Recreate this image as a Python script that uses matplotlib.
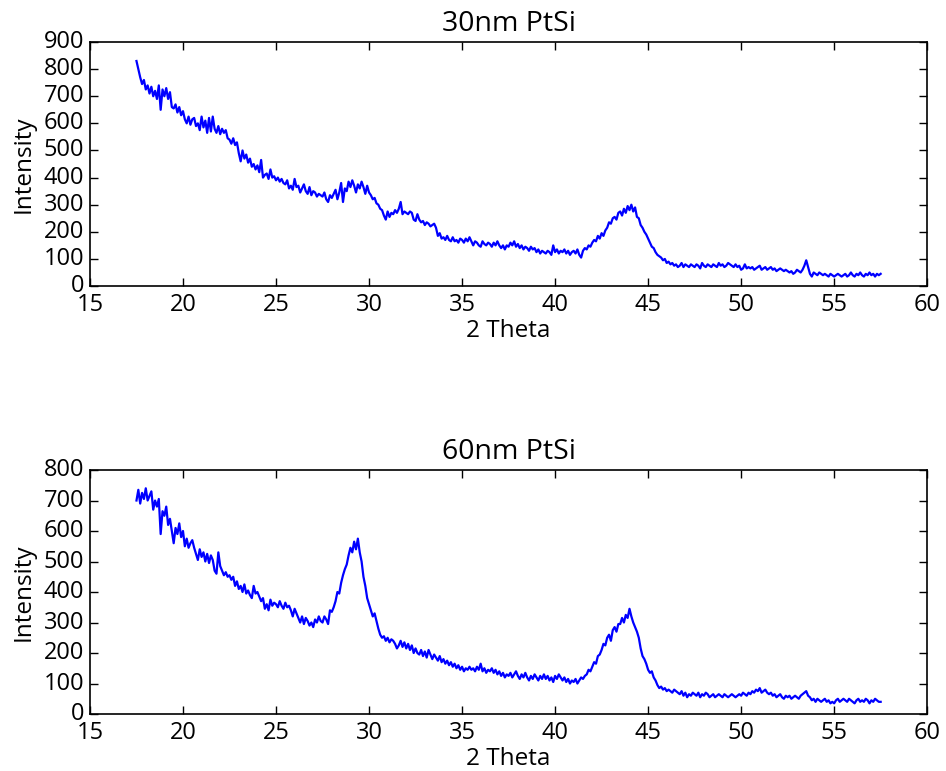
import numpy as np
import matplotlib
matplotlib.use("Agg")
import matplotlib.pyplot as plt

# =============================================================================
# Data (2 theta scan 17.5 -> 57.5 in 0.1 steps)
# =============================================================================
two_theta = np.round(np.linspace(17.5, 57.5, 401), 1)

intensity_30nm = [
    830, 800, 770, 745, 760, 725, 740, 710, 735, 700,
    720, 690, 740, 650, 725, 700, 730, 690, 715, 660,
    655, 670, 640, 660, 630, 645, 615, 600, 625, 595,
    615, 620, 590, 600, 575, 625, 585, 610, 565, 620,
    570, 625, 580, 565, 590, 560, 580, 565, 575, 545,
    540, 525, 545, 520, 530, 490, 460, 500, 470, 485,
    455, 470, 440, 450, 430, 445, 420, 465, 400, 410,
    415, 395, 430, 400, 405, 390, 400, 385, 395, 380,
    375, 390, 360, 370, 355, 395, 365, 370, 345, 360,
    375, 350, 340, 365, 335, 350, 345, 330, 340, 335,
    330, 345, 320, 310, 335, 325, 340, 355, 320, 345,
    380, 310, 360, 350, 385, 365, 390, 370, 345, 375,
    360, 385, 365, 340, 370, 345, 335, 320, 325, 305,
    300, 285, 280, 260, 245, 275, 255, 270, 265, 280,
    270, 285, 310, 265, 275, 270, 265, 275, 270, 245,
    240, 265, 245, 235, 240, 225, 235, 230, 220, 225,
    230, 215, 185, 195, 175, 180, 170, 185, 170, 165,
    180, 165, 170, 160, 175, 170, 160, 175, 165, 180,
    165, 150, 165, 160, 150, 145, 165, 155, 150, 160,
    155, 145, 160, 150, 165, 150, 140, 150, 135, 150,
    145, 160, 150, 165, 145, 155, 140, 150, 135, 145,
    140, 130, 145, 135, 140, 125, 135, 120, 130, 125,
    120, 130, 125, 115, 150, 125, 135, 120, 130, 125,
    135, 120, 130, 115, 125, 130, 120, 135, 115, 105,
    130, 140, 135, 150, 145, 160, 170, 165, 185, 175,
    195, 185, 205, 215, 235, 230, 250, 255, 245, 270,
    275, 260, 285, 270, 295, 280, 300, 275, 290, 255,
    250, 225, 215, 200, 190, 175, 160, 145, 140, 125,
    115, 110, 105, 95, 100, 85, 90, 80, 85, 75,
    80, 70, 75, 85, 70, 80, 75, 70, 80, 75,
    70, 80, 75, 65, 85, 75, 70, 80, 75, 70,
    80, 75, 70, 85, 75, 80, 70, 75, 85, 80,
    75, 70, 80, 70, 75, 60, 65, 80, 65, 70,
    65, 70, 60, 65, 70, 75, 60, 65, 70, 60,
    65, 70, 60, 65, 55, 60, 65, 60, 55, 60,
    55, 50, 55, 45, 50, 60, 55, 50, 60, 75,
    95, 70, 45, 35, 50, 45, 40, 50, 45, 40,
    45, 40, 35, 45, 40, 35, 40, 45, 40, 35,
    40, 45, 35, 40, 50, 40, 35, 45, 40, 50,
    40, 35, 45, 40, 50, 40, 45, 35, 45, 40,
    45,
]

intensity_60nm = [
    700, 735, 690, 725, 705, 740, 700, 715, 730, 670,
    700, 680, 705, 590, 665, 650, 680, 620, 640, 600,
    560, 610, 590, 625, 580, 600, 550, 575, 545, 560,
    570, 545, 525, 505, 540, 515, 530, 500, 525, 495,
    520, 505, 470, 460, 530, 485, 470, 455, 465, 450,
    455, 440, 450, 420, 435, 410, 420, 400, 425, 395,
    405, 390, 380, 420, 395, 400, 385, 370, 380, 345,
    360, 340, 375, 355, 365, 360, 350, 370, 355, 345,
    365, 350, 355, 340, 320, 345, 330, 315, 300, 320,
    295, 315, 305, 290, 300, 285, 310, 300, 320, 305,
    300, 320, 310, 295, 340, 335, 350, 370, 400, 395,
    430, 455, 475, 490, 520, 545, 530, 565, 540, 575,
    530, 500, 450, 420, 380, 360, 340, 320, 330, 305,
    280, 260, 250, 255, 240, 250, 235, 245, 240, 230,
    215, 225, 240, 220, 235, 215, 230, 210, 225, 200,
    215, 200, 195, 210, 190, 205, 185, 210, 195, 180,
    195, 185, 175, 190, 170, 180, 165, 175, 160, 170,
    155, 165, 150, 160, 145, 155, 140, 150, 145, 155,
    145, 150, 140, 155, 145, 165, 140, 150, 135, 145,
    140, 150, 135, 145, 130, 140, 125, 135, 120, 130,
    125, 135, 120, 130, 140, 125, 115, 130, 120, 135,
    120, 110, 125, 115, 130, 120, 110, 125, 115, 130,
    115, 125, 110, 120, 105, 125, 115, 130, 120, 110,
    120, 105, 115, 100, 110, 105, 115, 100, 110, 120,
    115, 125, 130, 145, 140, 155, 170, 165, 190, 195,
    210, 230, 225, 250, 260, 240, 275, 285, 270, 295,
    295, 315, 300, 325, 315, 345, 320, 300, 285, 270,
    250, 215, 190, 180, 165, 145, 135, 140, 120, 110,
    95, 85, 90, 80, 85, 75, 80, 75, 70, 80,
    75, 70, 65, 75, 60, 70, 55, 65, 60, 70,
    65, 60, 70, 55, 65, 60, 70, 65, 55, 60,
    65, 55, 60, 65, 60, 55, 65, 60, 55, 60,
    65, 60, 55, 60, 65, 60, 70, 65, 60, 70,
    65, 75, 70, 80, 75, 85, 70, 75, 80, 70,
    65, 70, 60, 65, 55, 60, 65, 55, 50, 60,
    55, 60, 50, 55, 60, 55, 50, 60, 65, 70,
    75, 60, 55, 45, 50, 40, 50, 45, 40, 45,
    50, 40, 45, 35, 40, 35, 45, 50, 40, 45,
    50, 45, 40, 50, 45, 40, 35, 45, 50, 40,
    45, 40, 50, 45, 35, 45, 40, 50, 45, 40,
    40,
]

titles = ["30nm PtSi", "60nm PtSi"]
ymax = [900, 800]

# =============================================================================
# Plot
# =============================================================================
plt.style.use("classic")
plt.rcParams["font.family"] = ["Open Sans", "DejaVu Sans"]
plt.rcParams["font.size"] = 17

fig = plt.figure(figsize=(9.46, 7.71), dpi=100, facecolor="white")
ax1 = fig.add_axes([0.0951, 0.629, 0.885, 0.3165])
ax2 = fig.add_axes([0.0951, 0.0739, 0.885, 0.3165])

for ax, y, title, ym in zip([ax1, ax2], [intensity_30nm, intensity_60nm], titles, ymax):
    ax.plot(two_theta, y, color="blue", linewidth=1.6)
    ax.set_xlim(15, 60)
    ax.set_ylim(0, ym)
    ax.set_xticks(np.arange(15, 61, 5))
    ax.set_yticks(np.arange(0, ym + 1, 100))
    ax.set_title(title, fontsize=20.5, pad=8)
    ax.set_xlabel("2 Theta", fontsize=17.5, labelpad=1.5)
    ax.set_ylabel("Intensity", fontsize=17.5, labelpad=6)
    ax.set_facecolor("white")
    for s in ax.spines.values():
        s.set_linewidth(1.2)
    ax.tick_params(direction="in", length=6, width=1, labelsize=17)
    ax.tick_params(axis="x", pad=5)
    ax.tick_params(axis="y", pad=4)

fig.savefig("out.png", dpi=100, facecolor="white")
